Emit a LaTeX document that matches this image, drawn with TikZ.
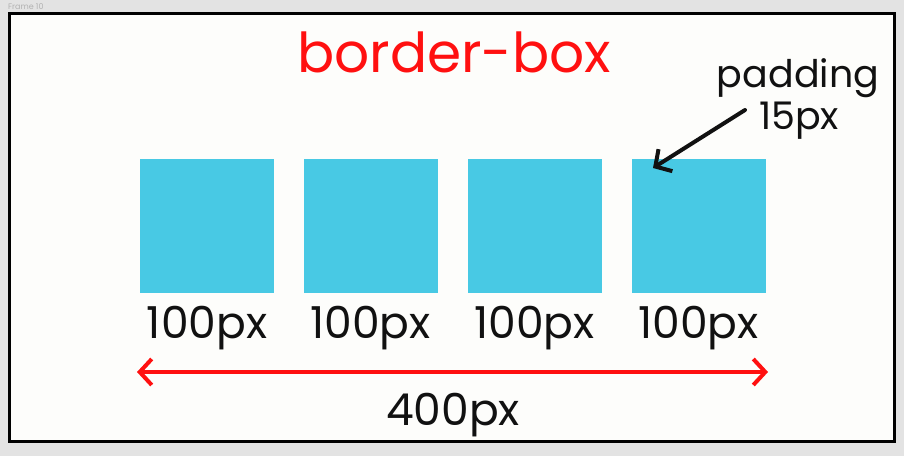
\documentclass[tikz,border=0pt]{standalone}
\usepackage{fontspec}
\setmainfont{Poppins}
\usetikzlibrary{arrows.meta,positioning}
\definecolor{boxcyan}{HTML}{48C9E4}
\definecolor{ink}{HTML}{111111}
\definecolor{bggray}{HTML}{E3E3E3}
\definecolor{paper}{HTML}{FDFDFB}
\definecolor{dimred}{HTML}{FF1010}
\begin{document}
\begin{tikzpicture}[x=1pt, y=-1pt,
    sq/.style={fill=boxcyan, minimum size=134pt, inner sep=0pt},
    lbl/.style={font=\fontsize{44}{52}\selectfont, text=ink, inner sep=0pt, anchor=base},
    barb/.style={-{Straight Barb[length=12pt,width=26pt]}, line width=4pt, line cap=round}]
    \useasboundingbox (0,0) rectangle (904,456);
    \clip (0,0) rectangle (904,456);
    \fill[bggray] (0,0) rectangle (904,456);
    \node[anchor=base west, font=\fontsize{8}{10}\selectfont, text=gray!60, inner sep=0pt] (frm) at (8,9.5) {Frame 10};
    \draw[line width=3pt, fill=paper] (9.5,13.5) rectangle (894.5,441.5);

    % title
    \node[lbl, text=dimred, font=\fontsize{55}{64}\selectfont] (title) at (454,72) {border-box};

    % boxes and widths
    \foreach \i/\x in {1/207,2/370.5,3/534.5,4/698.5}{
        \node[sq] (sq\i) at (\x,226) {};
        \node[lbl] (w\i) at (\x,338) {100px};
    }

    % total width
    \coordinate (dl) at (137,372);
    \coordinate (dr) at (768,372);
    \draw[barb, {Straight Barb[length=12pt,width=26pt]}-{Straight Barb[length=12pt,width=26pt]}, dimred] (dl) -- (dr);
    \node[lbl] (total) at (453,425) {400px};

    % padding note
    \node[lbl, font=\fontsize{38}{46}\selectfont] (pad) at (798,87) {padding};
    \node[lbl, font=\fontsize{38}{46}\selectfont] (padv) at (799,129) {15px};
    \coordinate (ptail) at (745,110);
    \coordinate (ptip) at (653,168);
    \draw[barb, ink] (ptail) -- (ptip);
\end{tikzpicture}
\end{document}
